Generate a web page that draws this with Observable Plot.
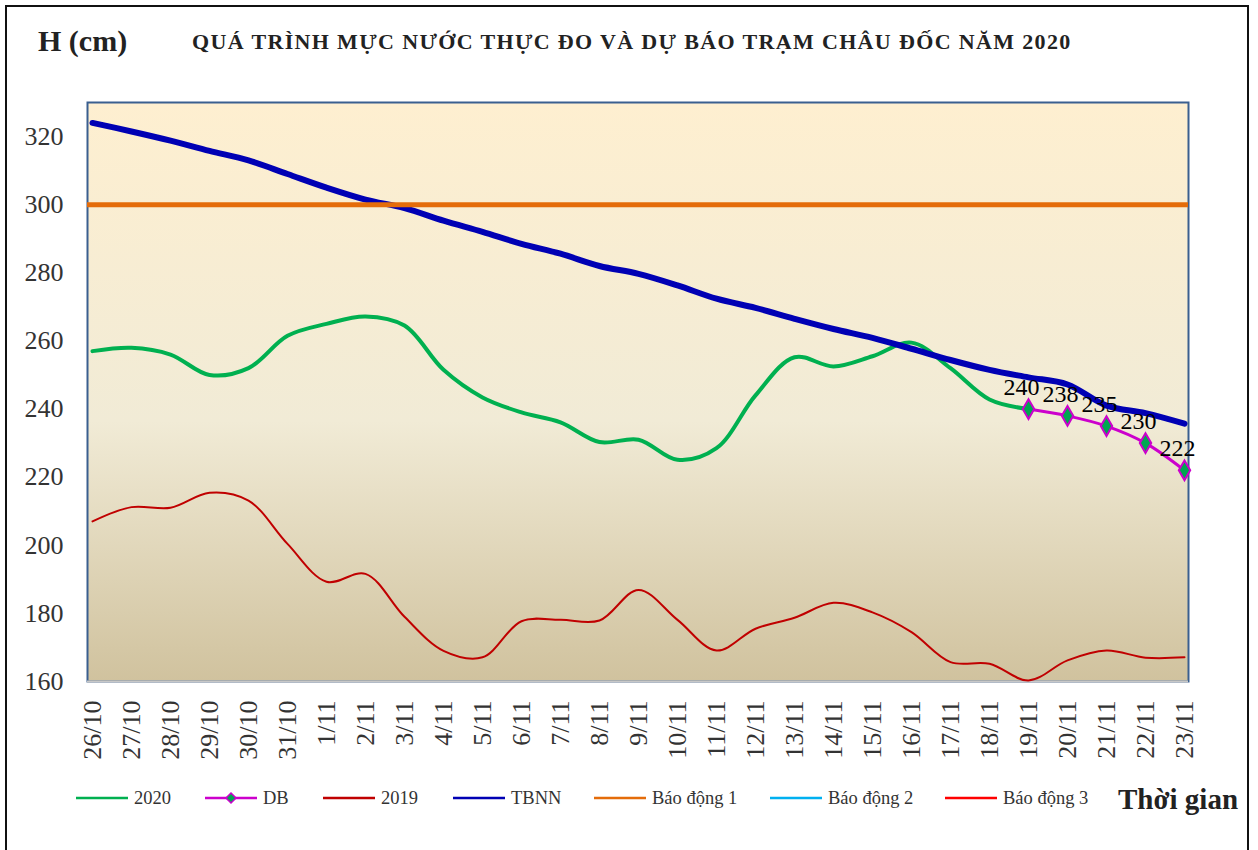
<!DOCTYPE html>
<html><head><meta charset="utf-8">
<script src="https://cdn.jsdelivr.net/npm/d3@7"></script>
<script src="https://cdn.jsdelivr.net/npm/@observablehq/plot@0.6"></script>
<style>
body{margin:0;background:#fff;}
#wrap{position:relative;width:1258px;height:850px;overflow:hidden;font-family:"Liberation Serif","Times New Roman",serif;}
#border{position:absolute;left:5px;top:5px;width:1240px;height:900px;border:2px solid #111;}
#chart{position:absolute;left:0;top:0;}
#chart svg text{font-family:"Liberation Serif","Times New Roman",serif;}
.t{position:absolute;white-space:nowrap;color:#222;font-weight:bold;line-height:1;}
.item{position:absolute;top:786px;display:flex;align-items:center;gap:6px;font-size:18.5px;color:#333;line-height:24px;white-space:nowrap;}
</style></head>
<body>
<div id="wrap">
  <div id="border"></div>
  <div id="chart"></div>
  <div class="t" style="left:38px;top:26px;font-size:30px;">H (cm)</div>
  <div class="t" style="left:192px;top:31px;font-size:22px;letter-spacing:1.35px;">QUÁ TRÌNH MỰC NƯỚC THỰC ĐO VÀ DỰ BÁO TRẠM CHÂU ĐỐC NĂM 2020</div>
  <div id="legend"></div>
  <div class="t" style="left:1118px;top:785px;font-size:29px;">Thời gian</div>
</div>
<script>
const dates = ["26/10","27/10","28/10","29/10","30/10","31/10","1/11","2/11","3/11","4/11","5/11","6/11","7/11","8/11","9/11","10/11","11/11","12/11","13/11","14/11","15/11","16/11","17/11","18/11","19/11","20/11","21/11","22/11","23/11"];
const h2020 = [257,258,256,250,252,261.5,265,267.2,264.5,251.5,243.4,239,236.1,230.3,231,225.1,228.5,244,255.2,252.5,255.5,259.5,252,242.8,240];
const dbDates = ["19/11","20/11","21/11","22/11","23/11"];
const dbValues = [240,238,235,230,222];
const h2019 = [207,211.2,211,215.4,213.1,200.4,189.3,191.6,179,169,167.1,177.7,178.1,177.9,186.9,178.1,169.1,175.5,178.7,183.1,180.3,174.5,165.7,165.2,160.3,166.2,169.1,167,167.1];
const tbnn = [324,321.5,318.8,315.8,313,309,305,301.5,299,295.3,292,288.5,285.6,282,279.7,276.3,272.4,269.7,266.5,263.5,260.9,257.7,254.4,251.5,249.3,247.2,241,238.8,235.7];
const baoDong1 = 300;
const yTicks = [160,180,200,220,240,260,280,300,320];
const seriesNames = ["2020","DB","2019","TBNN","Báo động 1","Báo động 2","Báo động 3"];
const seriesColors = ["#00B050","#CC00CC","#C00000","#0000B4","#E46C0A","#00B0F0","#FF0000"];
const legendLeft = [76,205,323,453,594,770,945];

const font = "'Liberation Serif','Times New Roman',serif";
const d2020 = h2020.map((v,i)=>({date:dates[i], v}));
const dDB = dbValues.map((v,i)=>({date:dbDates[i], v}));
const d2019 = h2019.map((v,i)=>({date:dates[i], v}));
const dTB = tbnn.map((v,i)=>({date:dates[i], v}));

const svg = Plot.plot({
  width:1258, height:850,
  marginLeft:87, marginRight:70, marginTop:102, marginBottom:169,
  x:{type:"point", domain:dates, padding:0},
  y:{domain:[160,330]},
  style:"font-family:'Liberation Serif','Times New Roman',serif;background:transparent;overflow:visible;",
  marks:[
    Plot.frame({fill:"url(#bg)", stroke:"#3A5F8F", strokeWidth:2}),
    Plot.ruleY([160],{stroke:"#C8C8C8", strokeWidth:2}),
    Plot.axisY({ticks:yTicks, tickSize:0, tickPadding:24, fontSize:26, fontFamily:font, fill:"#333", label:null}),
    Plot.axisX({tickSize:0, tickPadding:19, tickRotate:-90, fontSize:26, fontFamily:font, fill:"#333", label:null}),
    Plot.line(d2020,{x:"date", y:"v", stroke:seriesColors[0], strokeWidth:4, curve:"catmull-rom"}),
    Plot.line(dDB,{x:"date", y:"v", stroke:seriesColors[1], strokeWidth:3, curve:"catmull-rom"}),
    Plot.line(d2019,{x:"date", y:"v", stroke:seriesColors[2], strokeWidth:2, curve:"catmull-rom"}),
    Plot.line(dTB,{x:"date", y:"v", stroke:seriesColors[3], strokeWidth:6, curve:"catmull-rom"}),
    Plot.ruleY([baoDong1],{stroke:seriesColors[4], strokeWidth:5}),
    Plot.dot(dDB,{x:"date", y:"v", symbol:"diamond", r:6, fill:"#00A651", stroke:seriesColors[1], strokeWidth:2}),
    Plot.text(dDB,{x:"date", y:"v", text:d=>String(d.v), dy:-22, dx:-7, fontSize:24, fontFamily:font, fill:"#000"})
  ]
});
const defs = d3.create("svg:defs");
const g = defs.append("linearGradient").attr("id","bg").attr("x1",0).attr("y1",0).attr("x2",0).attr("y2",1);
g.append("stop").attr("offset","0%").attr("stop-color","#FEEFD0");
g.append("stop").attr("offset","55%").attr("stop-color","#F1EBD6");
g.append("stop").attr("offset","100%").attr("stop-color","#D0C29E");
svg.insertBefore(defs.node(), svg.firstChild);
document.getElementById("chart").appendChild(svg);

const legend = d3.select("#legend");
seriesNames.forEach((name,i)=>{
  const it = legend.append("div").attr("class","item").style("left", legendLeft[i]+"px");
  const s = it.append("svg").attr("width",52).attr("height",14);
  s.append("line").attr("x1",0).attr("x2",52).attr("y1",7).attr("y2",7).attr("stroke",seriesColors[i]).attr("stroke-width",2.5);
  if (name==="DB") s.append("path").attr("d","M26,2L31,7L26,12L21,7Z").attr("fill","#00A651").attr("stroke",seriesColors[i]).attr("stroke-width",1.5);
  it.append("span").text(name);
});
</script>
</body></html>
